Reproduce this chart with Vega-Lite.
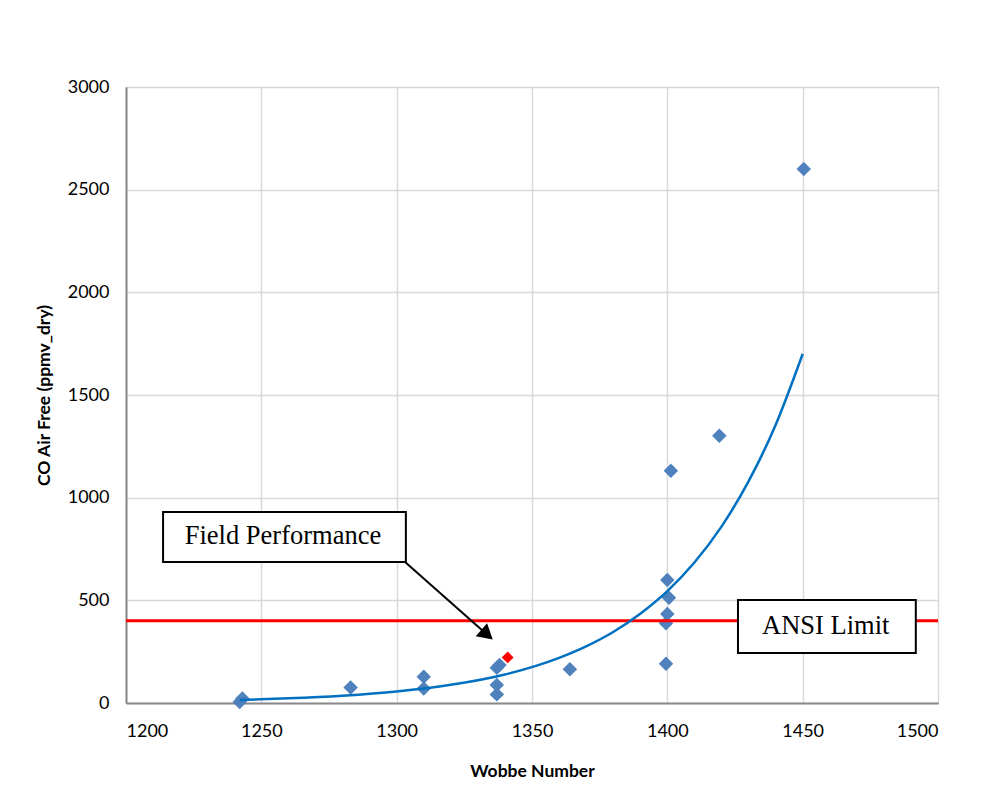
{
  "$schema": "https://vega.github.io/schema/vega-lite/v6.json",
  "autosize": {"type": "none"},
  "width": 812,
  "height": 616,
  "padding": {"left": 126, "top": 87, "right": 62, "bottom": 102},
  "background": "white",
  "config": {
    "view": {"stroke": "#000000", "strokeWidth": 1},
    "axis": {
      "labelFont": "Lato", "labelFontSize": 18, "labelColor": "#000000",
      "titleFont": "Lato", "titleFontSize": 17.5, "titleFontWeight": "bold", "titleColor": "#000000",
      "ticks": false, "domainColor": "#898989", "domainWidth": 2,
      "gridColor": "#d9d9d9", "gridWidth": 1.5
    }
  },
  "datasets": {
    "points": [
      {"wobbe": 1242, "co": 5},
      {"wobbe": 1243, "co": 22},
      {"wobbe": 1283, "co": 75},
      {"wobbe": 1310, "co": 128},
      {"wobbe": 1310, "co": 71},
      {"wobbe": 1337, "co": 172},
      {"wobbe": 1338, "co": 185},
      {"wobbe": 1337, "co": 88},
      {"wobbe": 1337, "co": 42},
      {"wobbe": 1364, "co": 164},
      {"wobbe": 1400, "co": 599},
      {"wobbe": 1400.6, "co": 513},
      {"wobbe": 1400, "co": 433},
      {"wobbe": 1399.5, "co": 388},
      {"wobbe": 1399.5, "co": 191},
      {"wobbe": 1401.3, "co": 1131},
      {"wobbe": 1419.2, "co": 1302},
      {"wobbe": 1450.4, "co": 2601}
    ],
    "field": [
      {"wobbe": 1341, "co": 222}
    ],
    "curve": [
      {"wobbe": 1242, "co": 15},
      {"wobbe": 1260, "co": 22.6},
      {"wobbe": 1280, "co": 35.6},
      {"wobbe": 1300, "co": 56},
      {"wobbe": 1320, "co": 88.5},
      {"wobbe": 1340, "co": 139},
      {"wobbe": 1360, "co": 220},
      {"wobbe": 1370, "co": 276},
      {"wobbe": 1380, "co": 346},
      {"wobbe": 1390, "co": 435},
      {"wobbe": 1400, "co": 545},
      {"wobbe": 1410, "co": 684},
      {"wobbe": 1420, "co": 859},
      {"wobbe": 1430, "co": 1079},
      {"wobbe": 1440, "co": 1354},
      {"wobbe": 1450, "co": 1700}
    ],
    "one": [{"k": 1}]
  },
  "layer": [
    {
      "data": {"name": "points"},
      "mark": {"type": "point", "shape": "diamond", "filled": true, "size": 210, "color": "#4f81bd", "opacity": 1},
      "encoding": {
        "x": {
          "field": "wobbe", "type": "quantitative", "title": "Wobbe Number",
          "scale": {"domain": [1200, 1500], "nice": false, "zero": false},
          "axis": {"values": [1200, 1250, 1300, 1350, 1400, 1450, 1500], "format": "d", "labelPadding": 19, "titlePadding": 22, "grid": true}
        },
        "y": {
          "field": "co", "type": "quantitative", "title": "CO Air Free (ppmv_dry)",
          "scale": {"domain": [0, 3000], "nice": false},
          "axis": {"values": [0, 500, 1000, 1500, 2000, 2500, 3000], "format": "d", "labelPadding": 17, "titlePadding": 14, "grid": true}
        }
      }
    },
    {
      "data": {"name": "one"},
      "mark": {"type": "rule", "color": "#ff0000", "strokeWidth": 3},
      "encoding": {"y": {"datum": 400}}
    },
    {
      "data": {"name": "curve"},
      "mark": {"type": "line", "color": "#0070c0", "strokeWidth": 2.5, "interpolate": "monotone"},
      "encoding": {
        "x": {"field": "wobbe", "type": "quantitative"},
        "y": {"field": "co", "type": "quantitative"}
      }
    },
    {
      "data": {"name": "field"},
      "mark": {"type": "point", "shape": "diamond", "filled": true, "size": 140, "color": "#ff0000", "opacity": 1},
      "encoding": {
        "x": {"field": "wobbe", "type": "quantitative"},
        "y": {"field": "co", "type": "quantitative"}
      }
    },
    {
      "data": {"name": "one"},
      "mark": {"type": "rect", "fill": "white", "stroke": "#000000", "strokeWidth": 2},
      "encoding": {
        "x": {"datum": 1213.7}, "x2": {"datum": 1303.4},
        "y": {"datum": 930}, "y2": {"datum": 687}
      }
    },
    {
      "data": {"name": "one"},
      "mark": {"type": "text", "text": "Field Performance", "font": "Liberation Serif", "fontSize": 26.5, "color": "#000000", "align": "center", "baseline": "middle"},
      "encoding": {"x": {"datum": 1258}, "y": {"datum": 813}}
    },
    {
      "data": {"name": "one"},
      "mark": {"type": "rect", "fill": "white", "stroke": "#000000", "strokeWidth": 2},
      "encoding": {
        "x": {"datum": 1426.1}, "x2": {"datum": 1491.8},
        "y": {"datum": 502}, "y2": {"datum": 244}
      }
    },
    {
      "data": {"name": "one"},
      "mark": {"type": "text", "text": "ANSI Limit", "font": "Liberation Serif", "fontSize": 26.5, "color": "#000000", "align": "center", "baseline": "middle"},
      "encoding": {"x": {"datum": 1458.5}, "y": {"datum": 374}}
    },
    {
      "data": {"name": "one"},
      "mark": {"type": "rule", "color": "#000000", "strokeWidth": 2},
      "encoding": {
        "x": {"datum": 1303.1}, "y": {"datum": 687},
        "x2": {"datum": 1332}, "y2": {"datum": 350}
      }
    },
    {
      "data": {"name": "one"},
      "mark": {"type": "point", "shape": "triangle-right", "filled": true, "size": 300, "color": "#000000", "opacity": 1, "angle": 41},
      "encoding": {"x": {"datum": 1333.4}, "y": {"datum": 333}}
    }
  ]
}
